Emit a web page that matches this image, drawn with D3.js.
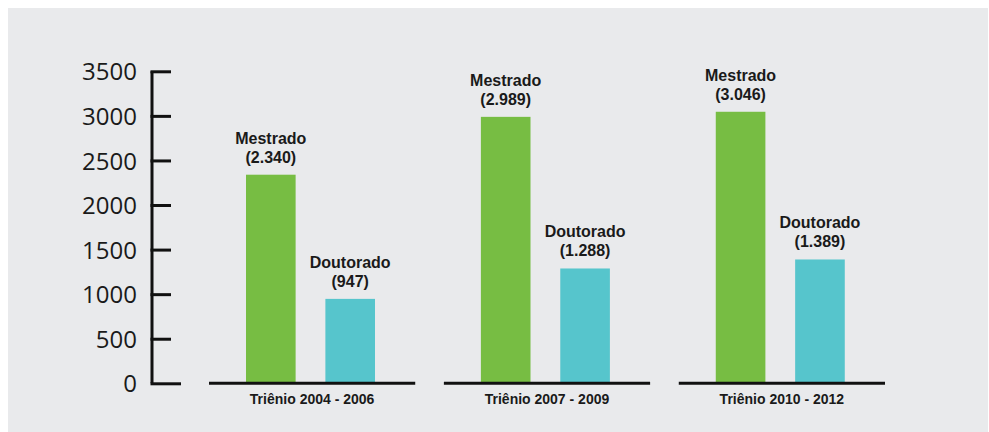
<!DOCTYPE html>
<html>
<head>
<meta charset="utf-8">
<script src="https://cdn.jsdelivr.net/npm/d3@7"></script>
<style>
  body { margin: 0; background: #ffffff; }
</style>
</head>
<body>
<script>
var w = 989;
var h = 432;

// data
var trienios = ["Triênio 2004 - 2006", "Triênio 2007 - 2009", "Triênio 2010 - 2012"];
var niveis = ["Mestrado", "Doutorado"];
var mestrado = [2340, 2989, 3046];
var doutorado = [947, 1288, 1389];
var rotulos = {
    Mestrado: ["2.340", "2.989", "3.046"],
    Doutorado: ["947", "1.288", "1.389"]
};
var yTicks = [0, 500, 1000, 1500, 2000, 2500, 3000, 3500];

var cores = { Mestrado: "#77bd43", Doutorado: "#56c5cc" };

var rows = trienios.map(function(t, i) {
    return { trienio: t, i: i, Mestrado: mestrado[i], Doutorado: doutorado[i] };
});

var svg = d3.select("body")
    .append("svg")
    .attr("width", w)
    .attr("height", h);

// gray panel
svg.append("rect")
    .attr("x", 8)
    .attr("y", 8)
    .attr("width", 980)
    .attr("height", 424)
    .attr("fill", "#e9eaec");

var yScale = d3.scaleLinear()
    .domain([0, 3500])
    .range([383.3, 71.3]);

var x0 = d3.scaleBand()
    .domain(trienios)
    .range([209, 885])
    .paddingInner(0.122)
    .paddingOuter(0);

var x1 = d3.scaleBand()
    .domain(niveis)
    .range([37, 166])
    .paddingInner(0.375)
    .paddingOuter(0);

// y axis
var yAxis = d3.axisRight(yScale)
    .tickValues(yTicks)
    .tickSize(19)
    .tickSizeOuter(0)
    .tickFormat(d3.format("d"));

var gy = svg.append("g")
    .attr("transform", "translate(152,0)")
    .call(yAxis);

gy.select(".domain")
    .attr("stroke", "#111")
    .attr("stroke-width", 3)
    .attr("d", "M0," + yScale(3500) + "V" + yScale(0));
gy.selectAll(".tick line")
    .attr("stroke", "#111")
    .attr("stroke-width", 3)
    .attr("x1", -1.5);
gy.selectAll(".tick")
    .filter(function(d) { return d === 0; })
    .select("line")
    .attr("x2", 29);
gy.selectAll(".tick text")
    .attr("x", -15)
    .attr("dy", "0.36em")
    .attr("text-anchor", "end")
    .style("font-family", "'Open Sans', sans-serif")
    .style("font-size", "24px")
    .attr("fill", "#1a1a1a");

// groups
var groups = svg.selectAll("g.grupo")
    .data(rows)
    .enter()
    .append("g")
    .attr("class", "grupo")
    .attr("transform", function(d) { return "translate(" + x0(d.trienio) + ",0)"; });

function barData(d) {
    return niveis.map(function(n) { return { nivel: n, value: d[n], i: d.i }; });
}

// bars
groups.selectAll("rect")
    .data(barData)
    .enter()
    .append("rect")
    .attr("x", function(d) { return x1(d.nivel); })
    .attr("y", function(d) { return yScale(d.value); })
    .attr("width", x1.bandwidth())
    .attr("height", function(d) { return yScale(0) - yScale(d.value); })
    .attr("fill", function(d) { return cores[d.nivel]; });

// bar labels: name line and value line
groups.selectAll("text.nome")
    .data(barData)
    .enter()
    .append("text")
    .attr("class", "nome")
    .attr("x", function(d) { return x1(d.nivel) + x1.bandwidth() / 2; })
    .attr("y", function(d) { return yScale(d.value) - 31; })
    .attr("text-anchor", "middle")
    .text(function(d) { return d.nivel; })
    .style("font-family", "'Liberation Sans', Arial, sans-serif")
    .style("font-weight", "bold")
    .style("font-size", "16px")
    .attr("fill", "#1a1a1a");

groups.selectAll("text.valor")
    .data(barData)
    .enter()
    .append("text")
    .attr("class", "valor")
    .attr("x", function(d) { return x1(d.nivel) + x1.bandwidth() / 2; })
    .attr("y", function(d) { return yScale(d.value) - 12; })
    .attr("text-anchor", "middle")
    .text(function(d) { return "(" + rotulos[d.nivel][d.i] + ")"; })
    .style("font-family", "'Liberation Sans', Arial, sans-serif")
    .style("font-weight", "bold")
    .style("font-size", "16px")
    .attr("fill", "#1a1a1a");

// baseline per group
groups.append("line")
    .attr("x1", 0)
    .attr("x2", x0.bandwidth())
    .attr("y1", yScale(0))
    .attr("y2", yScale(0))
    .attr("stroke", "#111")
    .attr("stroke-width", 3);

// group labels
groups.append("text")
    .attr("x", x0.bandwidth() / 2)
    .attr("y", 404)
    .attr("text-anchor", "middle")
    .text(function(d) { return d.trienio; })
    .style("font-family", "'Liberation Sans Narrow', 'Arial Narrow', sans-serif")
    .style("font-weight", "bold")
    .style("font-size", "14px")
    .attr("fill", "#1a1a1a");
</script>
</body>
</html>
